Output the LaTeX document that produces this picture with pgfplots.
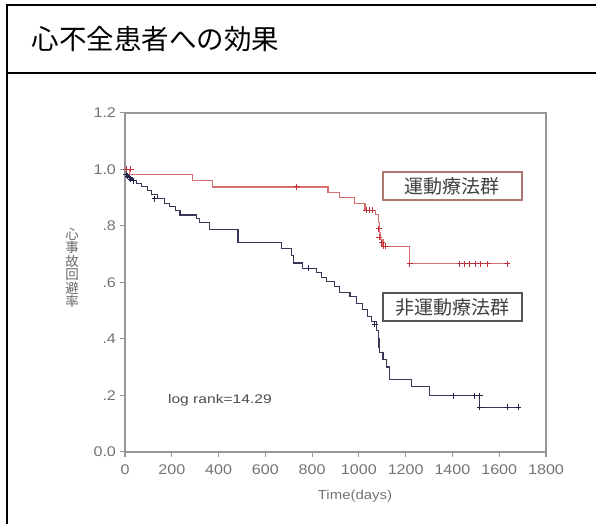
\documentclass[border=0pt]{standalone}
\usepackage{fontspec}
\setmainfont{Liberation Sans}
\newfontfamily\jp{Noto Sans CJK JP}
\usepackage{pgfplots}
\pgfplotsset{compat=1.18}

\definecolor{axgray}{RGB}{150,150,150}
\definecolor{lblgray}{RGB}{115,115,115}
\definecolor{redline}{RGB}{215,110,110}
\definecolor{redmark}{RGB}{195,50,60}
\definecolor{blueline}{RGB}{55,55,90}
\definecolor{bluemark}{RGB}{35,35,75}
\definecolor{box1}{RGB}{175,120,110}
\definecolor{box2}{RGB}{85,85,85}

\begin{document}
\begin{tikzpicture}[x=1pt,y=1pt]
\useasboundingbox (0,0) rectangle (596,523);
% table frame
\draw[line width=2pt] (7,518) -- (600,518);
\draw[line width=2pt] (7,450) -- (600,450);
\draw[line width=2pt] (7,519) -- (7,-5);
\node[anchor=west,font=\jp\fontsize{27.5}{27.5}\selectfont] at (28,484) {心不全患者への効果};

% y label, stacked characters
\node[align=center,text=lblgray!90!black,font=\jp\fontsize{13.5}{13.5}\selectfont] at (72,255) {心\\事\\故\\回\\避\\率};

\begin{axis}[
  at={(125pt,71.3pt)}, anchor=south west,
  scale only axis, width=421pt, height=339pt,
  xmin=0, xmax=1800, ymin=0, ymax=1.2,
  axis line style={axgray, line width=1.8pt},
  tick style={axgray, line width=1.2pt},
  tick align=outside, major tick length=5pt,
  tick pos=left,
  xtick={0,200,...,1800},
  xticklabels={0,200,400,600,800,1000,1200,1400,1600,1800},
  ytick={0,0.2,0.4,0.6,0.8,1.0,1.2},
  yticklabels={0.0,.2,.4,.6,.8,1.0,1.2},
  /pgf/number format/assume math mode=true,
  every tick label/.append style={text=lblgray, font=\fontsize{14}{14}\selectfont, xscale=1.15},
  xticklabel style={yshift=-4pt},
  clip=false,
]
% 運動療法群
\addplot[const plot, redline, line width=1.1pt] coordinates {
(0,1.0) (20,0.98) (289,0.96) (376,0.937) (868,0.919) (919,0.899) (983,0.88)
(1026,0.855) (1070,0.84) (1083,0.81) (1088,0.775) (1094,0.75) (1103,0.727)
(1218,0.665) (1637,0.665)
};
\addplot[only marks, mark=+, mark size=3pt, redmark, line width=1pt] coordinates {
(5,1.0) (25,1.0) (734,0.937) (1032,0.855) (1045,0.855) (1058,0.855)
(1085,0.79) (1088,0.76) (1098,0.74) (1106,0.727) (1115,0.727)
(1218,0.665) (1432,0.665) (1452,0.665) (1474,0.665) (1498,0.665)
(1522,0.665) (1550,0.665) (1635,0.665)
};
% 非運動療法群
\addplot[const plot, blueline, line width=1.1pt] coordinates {
(0,0.98) (15,0.97) (30,0.96) (50,0.95) (70,0.94) (95,0.925) (115,0.91)
(140,0.895) (170,0.88) (192,0.867) (215,0.853) (235,0.838) (306,0.825)
(320,0.81) (363,0.785) (483,0.742) (670,0.72) (712,0.696) (719,0.668)
(760,0.65) (819,0.633) (840,0.618) (862,0.602) (897,0.584) (919,0.562)
(962,0.549) (990,0.526) (1017,0.502) (1038,0.478) (1054,0.46) (1075,0.43)
(1082,0.40) (1086,0.37) (1090,0.35) (1103,0.325) (1118,0.30) (1132,0.254)
(1225,0.232) (1303,0.198) (1517,0.157) (1681,0.157)
};
\addplot[only marks, mark=+, mark size=3pt, bluemark, line width=1pt] coordinates {
(5,0.98) (12,0.975) (18,0.97) (25,0.965) (35,0.96) (128,0.895) (783,0.65)
(1068,0.452) (1403,0.198) (1496,0.198) (1517,0.198) (1517,0.157)
(1635,0.157) (1681,0.157)
};
\node[draw=box1, line width=1.3pt, fill=white, minimum width=139pt, minimum height=28pt,
  inner sep=0pt, text=black!75, font=\jp\fontsize{19}{19}\selectfont] at (axis cs:1400,0.9405) {運動療法群};
\node[draw=box2, line width=1.3pt, fill=white, minimum width=139pt, minimum height=28pt,
  inner sep=0pt, text=black!75, font=\jp\fontsize{19}{19}\selectfont] at (axis cs:1400,0.512) {非運動療法群};
\node[text=black!70, font=\fontsize{12.5}{12.5}\selectfont, xscale=1.25] at (axis cs:406,0.183) {log rank=14.29};
\end{axis}
\node[text=lblgray, font=\fontsize{13}{13}\selectfont, xscale=1.15] at (355,27) {Time(days)};
\end{tikzpicture}
\end{document}
